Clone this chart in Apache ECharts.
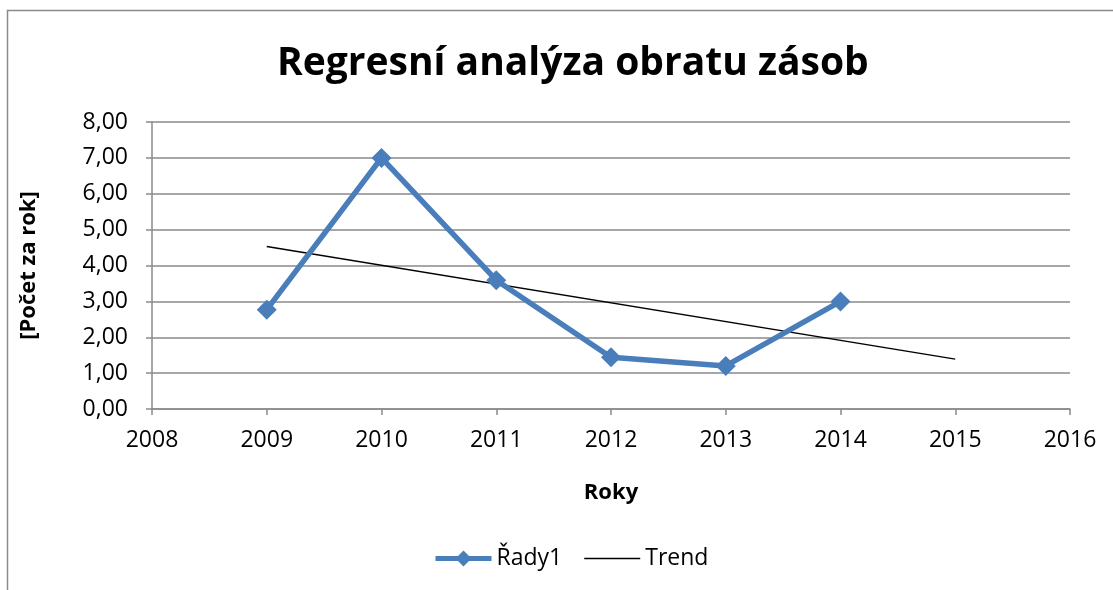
<!DOCTYPE html>
<html>
<head>
<meta charset="utf-8">
<script src="https://cdn.jsdelivr.net/npm/echarts@6/dist/echarts.min.js"></script>
<style>
    html, body { margin: 0; padding: 0; background: #fff; }
    #chart { width: 1113px; height: 590px; }
</style>
</head>
<body>
<div id="chart"></div>
<script>
// data
var years = [2009, 2010, 2011, 2012, 2013, 2014];
var rady1 = [2.77, 7.00, 3.59, 1.44, 1.20, 3.00];
var trendYears = [2009, 2015];
var trendValues = [4.53, 1.39];

var font = 'Open Sans';
var gridColor = '#8a8a8a';

var myChart = echarts.init(document.getElementById('chart'));
var option = {
    animation: false,
    backgroundColor: '#fff',
    textStyle: { fontFamily: font },
    title: {
        text: 'Regresní analýza obratu zásob',
        left: 272,
        top: 39,
        textStyle: { fontFamily: font, fontSize: 39, fontWeight: 'bold', color: '#000' }
    },
    graphic: [{
        type: 'polyline',
        shape: { points: [[7.5, 600], [7.5, 10.5], [1120, 10.5]] },
        style: { stroke: '#8a8a8a', lineWidth: 1.5, fill: null },
        silent: true
    }],
    legend: {
        left: 428,
        top: 542,
        itemWidth: 56,
        itemHeight: 20,
        itemGap: 22,
        textStyle: { fontFamily: font, fontSize: 23, color: '#000' },
        data: [{
            name: 'Řady1',
            lineStyle: { width: 5, color: '#4a7ebb' }
        }, {
            name: 'Trend',
            icon: 'path://M0,0L56,0L56,1.5L0,1.5Z',
            itemStyle: { color: '#000' }
        }]
    },
    grid: {
        left: 152,
        right: 43,
        top: 122,
        bottom: 181
    },
    xAxis: {
        type: 'value',
        min: 2008,
        max: 2016,
        interval: 1,
        name: 'Roky',
        nameLocation: 'middle',
        nameGap: 73,
        nameTextStyle: { fontFamily: font, fontSize: 22, fontWeight: 'bold', color: '#000' },
        axisLine: { lineStyle: { color: gridColor, width: 1.5 } },
        axisTick: { show: true, length: 6, inside: false, lineStyle: { color: gridColor, width: 1.5 } },
        axisLabel: {
            color: '#000', fontSize: 23, fontFamily: font, margin: 20,
            formatter: function (v) { return String(v); }
        },
        splitLine: { show: false }
    },
    yAxis: {
        type: 'value',
        min: 0,
        max: 8,
        interval: 1,
        name: '[Počet za rok]',
        nameLocation: 'middle',
        nameGap: 112,
        nameRotate: 90,
        nameTextStyle: { fontFamily: font, fontSize: 22, fontWeight: 'bold', color: '#000' },
        axisLine: { show: true, lineStyle: { color: gridColor, width: 1.5 } },
        axisTick: { show: true, length: 6, lineStyle: { color: gridColor, width: 1.5 } },
        axisLabel: {
            color: '#000', fontSize: 23, fontFamily: font, margin: 24,
            formatter: function (v) { return v.toFixed(2).replace('.', ','); }
        },
        splitLine: { show: true, lineStyle: { color: gridColor, width: 1.5 } }
    },
    series: [{
        name: 'Řady1',
        type: 'line',
        symbol: 'diamond',
        symbolSize: 20,
        showAllSymbol: true,
        color: '#4a7ebb',
        lineStyle: { width: 5.5, color: '#4a7ebb' },
        itemStyle: { color: '#4a7ebb' },
        data: years.map(function (y, i) { return [y, rady1[i]]; }),
        z: 3
    }, {
        name: 'Trend',
        type: 'line',
        symbol: 'none',
        color: '#000',
        lineStyle: { width: 1.5, color: '#000' },
        data: trendYears.map(function (y, i) { return [y, trendValues[i]]; }),
        z: 2
    }]
};
myChart.setOption(option);
</script>
</body>
</html>
